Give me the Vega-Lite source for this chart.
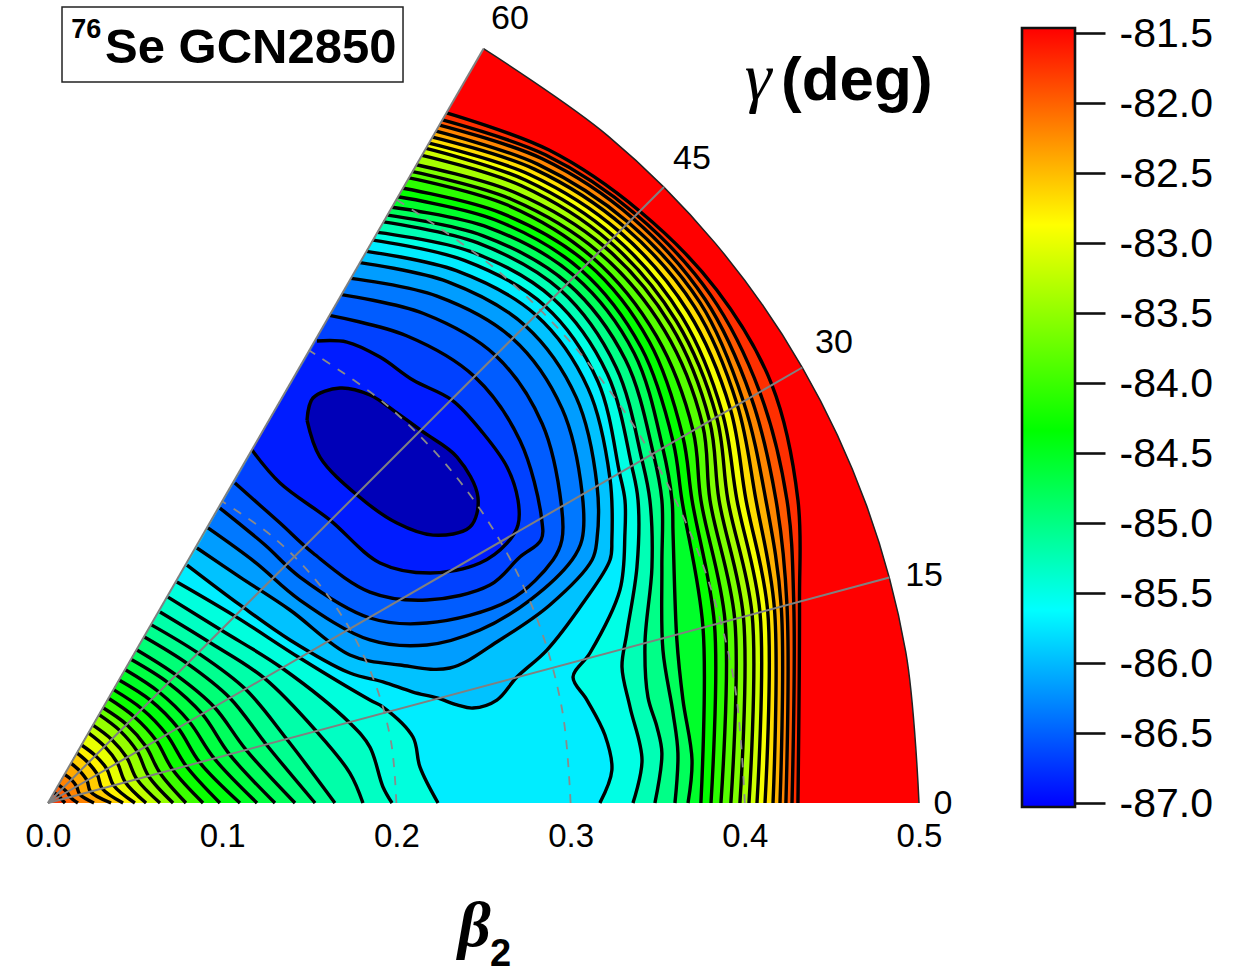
{"$schema":"https://vega.github.io/schema/vega-lite/v6.json","padding":{"left":25,"top":0,"right":0,"bottom":0},"background":"white","config":{"view":{"stroke":null},"text":{"font":"Liberation Sans","color":"#000"}},"spacing":103,"bounds":"flush",
"datasets":{"c":[
{"e":-81.4,"x":0.5,"y":0},{"e":-81.4,"x":0.4924,"y":0.0868},{"e":-81.4,"x":0.4698,"y":0.171},{"e":-81.4,"x":0.433,"y":0.25},{"e":-81.4,"x":0.383,"y":0.3214},{"e":-81.4,"x":0.3214,"y":0.383},{"e":-81.4,"x":0.25,"y":0.433},{"e":-81.4,"x":0.25,"y":0.433},{"e":-81.4,"x":0,"y":0},
{"e":-81.75,"x":0.4305,"y":0},{"e":-81.75,"x":0.4314,"y":0.1156},{"e":-81.75,"x":0.4305,"y":0.1739},{"e":-81.75,"x":0.4156,"y":0.2399},{"e":-81.75,"x":0.3839,"y":0.2945},{"e":-81.75,"x":0.3397,"y":0.3397},{"e":-81.75,"x":0.2876,"y":0.3748},{"e":-81.75,"x":0.2287,"y":0.3962},{"e":-81.75,"x":0.2287,"y":0.3962},{"e":-81.75,"x":0,"y":0},
{"e":-81.98,"x":0.4271,"y":0},{"e":-81.98,"x":0.4281,"y":0.1147},{"e":-81.98,"x":0.4242,"y":0.1739},{"e":-81.98,"x":0.4086,"y":0.2359},{"e":-81.98,"x":0.3803,"y":0.2917},{"e":-81.98,"x":0.3377,"y":0.3377},{"e":-81.98,"x":0.2855,"y":0.3721},{"e":-81.98,"x":0.2264,"y":0.3922},{"e":-81.98,"x":0.2264,"y":0.3922},{"e":-81.98,"x":0,"y":0},
{"e":-82.22,"x":0.4236,"y":0},{"e":-82.22,"x":0.4242,"y":0.1137},{"e":-82.22,"x":0.4179,"y":0.1739},{"e":-82.22,"x":0.4036,"y":0.233},{"e":-82.22,"x":0.3771,"y":0.2893},{"e":-82.22,"x":0.3357,"y":0.3357},{"e":-82.22,"x":0.2837,"y":0.3698},{"e":-82.22,"x":0.2247,"y":0.3892},{"e":-82.22,"x":0.2247,"y":0.3892},{"e":-82.22,"x":0,"y":0},
{"e":-82.45,"x":0.4202,"y":0},{"e":-82.45,"x":0.4209,"y":0.1128},{"e":-82.45,"x":0.4121,"y":0.1739},{"e":-82.45,"x":0.3992,"y":0.2305},{"e":-82.45,"x":0.3743,"y":0.2872},{"e":-82.45,"x":0.3332,"y":0.3332},{"e":-82.45,"x":0.2813,"y":0.3666},{"e":-82.45,"x":0.2227,"y":0.3857},{"e":-82.45,"x":0.2227,"y":0.3857},{"e":-82.45,"x":0,"y":0},
{"e":-82.69,"x":0.4162,"y":0},{"e":-82.69,"x":0.417,"y":0.1117},{"e":-82.69,"x":0.4064,"y":0.1739},{"e":-82.69,"x":0.3957,"y":0.2285},{"e":-82.69,"x":0.3712,"y":0.2848},{"e":-82.69,"x":0.3308,"y":0.3308},{"e":-82.69,"x":0.2792,"y":0.3639},{"e":-82.69,"x":0.2207,"y":0.3823},{"e":-82.69,"x":0.2207,"y":0.3823},{"e":-82.69,"x":0,"y":0},
{"e":-82.92,"x":0.4116,"y":0},{"e":-82.92,"x":0.4131,"y":0.1107},{"e":-82.92,"x":0.4007,"y":0.1739},{"e":-82.92,"x":0.3917,"y":0.2262},{"e":-82.92,"x":0.3675,"y":0.282},{"e":-82.92,"x":0.328,"y":0.328},{"e":-82.92,"x":0.2767,"y":0.3607},{"e":-82.92,"x":0.2187,"y":0.3788},{"e":-82.92,"x":0.2187,"y":0.3788},{"e":-82.92,"x":0,"y":0},
{"e":-83.15,"x":0.407,"y":0},{"e":-83.15,"x":0.4087,"y":0.1095},{"e":-83.15,"x":0.3955,"y":0.1739},{"e":-83.15,"x":0.3872,"y":0.2236},{"e":-83.15,"x":0.3639,"y":0.2792},{"e":-83.15,"x":0.3251,"y":0.3251},{"e":-83.15,"x":0.2743,"y":0.3575},{"e":-83.15,"x":0.217,"y":0.3758},{"e":-83.15,"x":0.217,"y":0.3758},{"e":-83.15,"x":0,"y":0},
{"e":-83.39,"x":0.4024,"y":0},{"e":-83.39,"x":0.4042,"y":0.1083},{"e":-83.39,"x":0.3903,"y":0.1739},{"e":-83.39,"x":0.3838,"y":0.2216},{"e":-83.39,"x":0.3607,"y":0.2767},{"e":-83.39,"x":0.3223,"y":0.3223},{"e":-83.39,"x":0.2718,"y":0.3543},{"e":-83.39,"x":0.2147,"y":0.3718},{"e":-83.39,"x":0.2147,"y":0.3718},{"e":-83.39,"x":0,"y":0},
{"e":-83.62,"x":0.3972,"y":0},{"e":-83.62,"x":0.3992,"y":0.107},{"e":-83.62,"x":0.3852,"y":0.1739},{"e":-83.62,"x":0.3798,"y":0.2193},{"e":-83.62,"x":0.3575,"y":0.2743},{"e":-83.62,"x":0.3194,"y":0.3194},{"e":-83.62,"x":0.2687,"y":0.3502},{"e":-83.62,"x":0.2115,"y":0.3664},{"e":-83.62,"x":0.2115,"y":0.3664},{"e":-83.62,"x":0,"y":0},
{"e":-83.85,"x":0.392,"y":0},{"e":-83.85,"x":0.3942,"y":0.1057},{"e":-83.85,"x":0.38,"y":0.1739},{"e":-83.85,"x":0.3758,"y":0.217},{"e":-83.85,"x":0.3538,"y":0.2715},{"e":-83.85,"x":0.3162,"y":0.3162},{"e":-83.85,"x":0.2659,"y":0.3466},{"e":-83.85,"x":0.2092,"y":0.3624},{"e":-83.85,"x":0.2092,"y":0.3624},{"e":-83.85,"x":0,"y":0},
{"e":-84.09,"x":0.3863,"y":0},{"e":-84.09,"x":0.3887,"y":0.1042},{"e":-84.09,"x":0.3748,"y":0.1739},{"e":-84.09,"x":0.3703,"y":0.2138},{"e":-84.09,"x":0.3493,"y":0.268},{"e":-84.09,"x":0.3129,"y":0.3129},{"e":-84.09,"x":0.2634,"y":0.3434},{"e":-84.09,"x":0.2072,"y":0.3589},{"e":-84.09,"x":0.2072,"y":0.3589},{"e":-84.09,"x":0,"y":0},
{"e":-84.32,"x":0.3806,"y":0},{"e":-84.32,"x":0.3826,"y":0.1025},{"e":-84.32,"x":0.3697,"y":0.1739},{"e":-84.32,"x":0.3644,"y":0.2104},{"e":-84.32,"x":0.3452,"y":0.2648},{"e":-84.32,"x":0.3097,"y":0.3097},{"e":-84.32,"x":0.26,"y":0.3388},{"e":-84.32,"x":0.2038,"y":0.3529},{"e":-84.32,"x":0.2038,"y":0.3529},{"e":-84.32,"x":0,"y":0},
{"e":-84.55,"x":0.3748,"y":0},{"e":-84.55,"x":0.376,"y":0.1008},{"e":-84.55,"x":0.3639,"y":0.1739},{"e":-84.55,"x":0.3589,"y":0.2072},{"e":-84.55,"x":0.3406,"y":0.2613},{"e":-84.55,"x":0.306,"y":0.306},{"e":-84.55,"x":0.2568,"y":0.3347},{"e":-84.55,"x":0.2009,"y":0.348},{"e":-84.55,"x":0.2009,"y":0.348},{"e":-84.55,"x":0,"y":0},
{"e":-84.79,"x":0.3674,"y":0},{"e":-84.79,"x":0.3697,"y":0.0247},{"e":-84.79,"x":0.3645,"y":0.0591},{"e":-84.79,"x":0.361,"y":0.0936},{"e":-84.79,"x":0.3588,"y":0.155},{"e":-84.79,"x":0.3582,"y":0.1739},{"e":-84.79,"x":0.3529,"y":0.2038},{"e":-84.79,"x":0.3365,"y":0.2582},{"e":-84.79,"x":0.3024,"y":0.3024},{"e":-84.79,"x":0.2533,"y":0.3302},{"e":-84.79,"x":0.1975,"y":0.342},{"e":-84.79,"x":0.1975,"y":0.342},{"e":-84.79,"x":0,"y":0},
{"e":-85.02,"x":0.3599,"y":0},{"e":-85.02,"x":0.3616,"y":0.0287},{"e":-85.02,"x":0.3588,"y":0.0517},{"e":-85.02,"x":0.353,"y":0.0878},{"e":-85.02,"x":0.3524,"y":0.1355},{"e":-85.02,"x":0.3524,"y":0.1739},{"e":-85.02,"x":0.3475,"y":0.2006},{"e":-85.02,"x":0.3315,"y":0.2544},{"e":-85.02,"x":0.2983,"y":0.2983},{"e":-85.02,"x":0.2498,"y":0.3256},{"e":-85.02,"x":0.1949,"y":0.3375},{"e":-85.02,"x":0.1949,"y":0.3375},{"e":-85.02,"x":0,"y":0},
{"e":-85.25,"x":0.3484,"y":0},{"e":-85.25,"x":0.3524,"y":0.0287},{"e":-85.25,"x":0.3496,"y":0.0436},{"e":-85.25,"x":0.3444,"y":0.0608},{"e":-85.25,"x":0.3427,"y":0.0918},{"e":-85.25,"x":0.3467,"y":0.1355},{"e":-85.25,"x":0.3455,"y":0.1739},{"e":-85.25,"x":0.341,"y":0.1969},{"e":-85.25,"x":0.3261,"y":0.2502},{"e":-85.25,"x":0.2943,"y":0.2943},{"e":-85.25,"x":0.2467,"y":0.3215},{"e":-85.25,"x":0.1926,"y":0.3336},{"e":-85.25,"x":0.1926,"y":0.3336},{"e":-85.25,"x":0,"y":0},
{"e":-85.49,"x":0.3358,"y":0},{"e":-85.49,"x":0.341,"y":0.0247},{"e":-85.49,"x":0.3341,"y":0.0551},{"e":-85.49,"x":0.3295,"y":0.0781},{"e":-85.49,"x":0.3323,"y":0.0976},{"e":-85.49,"x":0.3381,"y":0.1355},{"e":-85.49,"x":0.3387,"y":0.1739},{"e":-85.49,"x":0.3351,"y":0.1934},{"e":-85.49,"x":0.3211,"y":0.2463},{"e":-85.49,"x":0.2898,"y":0.2898},{"e":-85.49,"x":0.2428,"y":0.3165},{"e":-85.49,"x":0.1891,"y":0.3276},{"e":-85.49,"x":0.1891,"y":0.3276},{"e":-85.49,"x":0,"y":0},
{"e":-85.72,"x":0.3168,"y":0},{"e":-85.72,"x":0.3237,"y":0.0189},{"e":-85.72,"x":0.3197,"y":0.039},{"e":-85.72,"x":0.3094,"y":0.0591},{"e":-85.72,"x":0.3014,"y":0.0723},{"e":-85.72,"x":0.3111,"y":0.0861},{"e":-85.72,"x":0.3283,"y":0.1223},{"e":-85.72,"x":0.3312,"y":0.155},{"e":-85.72,"x":0.3312,"y":0.1739},{"e":-85.72,"x":0.3281,"y":0.1894},{"e":-85.72,"x":0.3156,"y":0.2421},{"e":-85.72,"x":0.2853,"y":0.2853},{"e":-85.72,"x":0.239,"y":0.3115},{"e":-85.72,"x":0.1866,"y":0.3231},{"e":-85.72,"x":0.1866,"y":0.3231},{"e":-85.72,"x":0,"y":0},
{"e":-85.45,"x":0.2239,"y":0},{"e":-85.45,"x":0.2135,"y":0.0207},{"e":-85.45,"x":0.2095,"y":0.0379},{"e":-85.45,"x":0.1923,"y":0.0551},{"e":-85.45,"x":0.1848,"y":0.0591},{"e":-85.45,"x":0.1446,"y":0.0832},{"e":-85.45,"x":0.1073,"y":0.1073},{"e":-85.45,"x":0.074,"y":0.1269},{"e":-85.45,"x":0.074,"y":0.1269},{"e":-85.45,"x":0,"y":0},
{"e":-85.32,"x":0.1975,"y":0},{"e":-85.32,"x":0.1923,"y":0.0092},{"e":-85.32,"x":0.1848,"y":0.0321},{"e":-85.32,"x":0.1733,"y":0.0459},{"e":-85.32,"x":0.1343,"y":0.0775},{"e":-85.32,"x":0.0993,"y":0.0993},{"e":-85.32,"x":0.0689,"y":0.1182},{"e":-85.32,"x":0.0689,"y":0.1182},{"e":-85.32,"x":0,"y":0},
{"e":-85.19,"x":0.1808,"y":0},{"e":-85.19,"x":0.1733,"y":0.0172},{"e":-85.19,"x":0.1544,"y":0.0408},{"e":-85.19,"x":0.124,"y":0.0718},{"e":-85.19,"x":0.0924,"y":0.0924},{"e":-85.19,"x":0.0643,"y":0.1096},{"e":-85.19,"x":0.0643,"y":0.1096},{"e":-85.19,"x":0,"y":0},
{"e":-85.06,"x":0.1647,"y":0},{"e":-85.06,"x":0.137,"y":0.0367},{"e":-85.06,"x":0.1133,"y":0.0654},{"e":-85.06,"x":0.0861,"y":0.0861},{"e":-85.06,"x":0.0591,"y":0.1024},{"e":-85.06,"x":0.0591,"y":0.1024},{"e":-85.06,"x":0,"y":0},
{"e":-84.93,"x":0.1533,"y":0},{"e":-84.93,"x":0.1253,"y":0.0336},{"e":-84.93,"x":0.1044,"y":0.0603},{"e":-84.93,"x":0.08,"y":0.08},{"e":-84.93,"x":0.0551,"y":0.0954},{"e":-84.93,"x":0.0551,"y":0.0954},{"e":-84.93,"x":0,"y":0},
{"e":-84.8,"x":0.1418,"y":0},{"e":-84.8,"x":0.1137,"y":0.0305},{"e":-84.8,"x":0.0954,"y":0.0551},{"e":-84.8,"x":0.0735,"y":0.0735},{"e":-84.8,"x":0.0508,"y":0.088},{"e":-84.8,"x":0.0508,"y":0.088},{"e":-84.8,"x":0,"y":0},
{"e":-84.67,"x":0.1303,"y":0},{"e":-84.67,"x":0.1042,"y":0.0279},{"e":-84.67,"x":0.0885,"y":0.0511},{"e":-84.67,"x":0.069,"y":0.069},{"e":-84.67,"x":0.0476,"y":0.0825},{"e":-84.67,"x":0.0476,"y":0.0825},{"e":-84.67,"x":0,"y":0},
{"e":-84.54,"x":0.12,"y":0},{"e":-84.54,"x":0.0954,"y":0.0256},{"e":-84.54,"x":0.081,"y":0.0468},{"e":-84.54,"x":0.0637,"y":0.0637},{"e":-84.54,"x":0.0442,"y":0.0766},{"e":-84.54,"x":0.0442,"y":0.0766},{"e":-84.54,"x":0,"y":0},
{"e":-84.41,"x":0.1102,"y":0},{"e":-84.41,"x":0.0871,"y":0.0233},{"e":-84.41,"x":0.0746,"y":0.0431},{"e":-84.41,"x":0.0589,"y":0.0589},{"e":-84.41,"x":0.0408,"y":0.0706},{"e":-84.41,"x":0.0408,"y":0.0706},{"e":-84.41,"x":0,"y":0},
{"e":-84.28,"x":0.0987,"y":0},{"e":-84.28,"x":0.0793,"y":0.0212},{"e":-84.28,"x":0.0681,"y":0.0393},{"e":-84.28,"x":0.054,"y":0.054},{"e":-84.28,"x":0.0376,"y":0.0651},{"e":-84.28,"x":0.0376,"y":0.0651},{"e":-84.28,"x":0,"y":0},
{"e":-84,"x":0.089,"y":0},{"e":-84,"x":0.0715,"y":0.0192},{"e":-84,"x":0.0621,"y":0.0359},{"e":-84,"x":0.0495,"y":0.0495},{"e":-84,"x":0.0347,"y":0.0601},{"e":-84,"x":0.0347,"y":0.0601},{"e":-84,"x":0,"y":0},
{"e":-83.74,"x":0.0792,"y":0},{"e":-83.74,"x":0.0643,"y":0.0172},{"e":-83.74,"x":0.0562,"y":0.0324},{"e":-83.74,"x":0.0451,"y":0.0451},{"e":-83.74,"x":0.0316,"y":0.0547},{"e":-83.74,"x":0.0316,"y":0.0547},{"e":-83.74,"x":0,"y":0},
{"e":-83.48,"x":0.0718,"y":0},{"e":-83.48,"x":0.0577,"y":0.0155},{"e":-83.48,"x":0.0512,"y":0.0296},{"e":-83.48,"x":0.0414,"y":0.0414},{"e":-83.48,"x":0.0293,"y":0.0507},{"e":-83.48,"x":0.0293,"y":0.0507},{"e":-83.48,"x":0,"y":0},
{"e":-83.23,"x":0.0643,"y":0},{"e":-83.23,"x":0.051,"y":0.0137},{"e":-83.23,"x":0.0452,"y":0.0261},{"e":-83.23,"x":0.0365,"y":0.0365},{"e":-83.23,"x":0.0258,"y":0.0447},{"e":-83.23,"x":0.0258,"y":0.0447},{"e":-83.23,"x":0,"y":0},
{"e":-83,"x":0.0563,"y":0},{"e":-83,"x":0.0444,"y":0.0119},{"e":-83,"x":0.0398,"y":0.023},{"e":-83,"x":0.0325,"y":0.0325},{"e":-83,"x":0.0232,"y":0.0403},{"e":-83,"x":0.0232,"y":0.0403},{"e":-83,"x":0,"y":0},
{"e":-82.8,"x":0.0499,"y":0},{"e":-82.8,"x":0.0377,"y":0.0101},{"e":-82.8,"x":0.0338,"y":0.0195},{"e":-82.8,"x":0.0272,"y":0.0272},{"e":-82.8,"x":0.0192,"y":0.0333},{"e":-82.8,"x":0.0192,"y":0.0333},{"e":-82.8,"x":0,"y":0},
{"e":-82.6,"x":0.0431,"y":0},{"e":-82.6,"x":0.0311,"y":0.0083},{"e":-82.6,"x":0.0283,"y":0.0164},{"e":-82.6,"x":0.0231,"y":0.0231},{"e":-82.6,"x":0.0166,"y":0.0288},{"e":-82.6,"x":0.0166,"y":0.0288},{"e":-82.6,"x":0,"y":0},
{"e":-82.4,"x":0.0362,"y":0},{"e":-82.4,"x":0.0244,"y":0.0065},{"e":-82.4,"x":0.0224,"y":0.0129},{"e":-82.4,"x":0.0183,"y":0.0183},{"e":-82.4,"x":0.0132,"y":0.0229},{"e":-82.4,"x":0.0132,"y":0.0229},{"e":-82.4,"x":0,"y":0},
{"e":-82.2,"x":0.0264,"y":0},{"e":-82.2,"x":0.0183,"y":0.0049},{"e":-82.2,"x":0.0164,"y":0.0095},{"e":-82.2,"x":0.0134,"y":0.0134},{"e":-82.2,"x":0.0095,"y":0.0164},{"e":-82.2,"x":0.0095,"y":0.0164},{"e":-82.2,"x":0,"y":0},
{"e":-82,"x":0.0172,"y":0},{"e":-82,"x":0.0128,"y":0.0034},{"e":-82,"x":0.0109,"y":0.0063},{"e":-82,"x":0.0085,"y":0.0085},{"e":-82,"x":0.006,"y":0.0104},{"e":-82,"x":0.006,"y":0.0104},{"e":-82,"x":0,"y":0},
{"e":-81.8,"x":0.0098,"y":0},{"e":-81.8,"x":0.0078,"y":0.0021},{"e":-81.8,"x":0.0065,"y":0.0037},{"e":-81.8,"x":0.0049,"y":0.0049},{"e":-81.8,"x":0.0034,"y":0.006},{"e":-81.8,"x":0.0034,"y":0.006},{"e":-81.8,"x":0,"y":0},
{"e":-85.95,"x":0.1828,"y":0.3167},{"e":-85.95,"x":0.2344,"y":0.3056},{"e":-85.95,"x":0.2801,"y":0.2801},{"e":-85.95,"x":0.3101,"y":0.2379},{"e":-85.95,"x":0.3226,"y":0.1863},{"e":-85.95,"x":0.3237,"y":0.151},{"e":-85.95,"x":0.3226,"y":0.1395},{"e":-85.95,"x":0.3071,"y":0.1148},{"e":-85.95,"x":0.2864,"y":0.0878},{"e":-85.95,"x":0.2692,"y":0.0723},{"e":-85.95,"x":0.2577,"y":0.0591},{"e":-85.95,"x":0.244,"y":0.0545},{"e":-85.95,"x":0.2348,"y":0.0563},{"e":-85.95,"x":0.2233,"y":0.0603},{"e":-85.95,"x":0.2095,"y":0.0637},{"e":-85.95,"x":0.1923,"y":0.0695},{"e":-85.95,"x":0.1733,"y":0.0746},{"e":-85.95,"x":0.1389,"y":0.0936},{"e":-85.95,"x":0.1102,"y":0.1137},{"e":-85.95,"x":0.0798,"y":0.1366},
{"e":-86.15,"x":0.1791,"y":0.3102},{"e":-86.15,"x":0.2296,"y":0.2992},{"e":-86.15,"x":0.274,"y":0.274},{"e":-86.15,"x":0.3033,"y":0.2327},{"e":-86.15,"x":0.3152,"y":0.182},{"e":-86.15,"x":0.3151,"y":0.151},{"e":-86.15,"x":0.3123,"y":0.1395},{"e":-86.15,"x":0.2881,"y":0.1137},{"e":-86.15,"x":0.2594,"y":0.0936},{"e":-86.15,"x":0.2307,"y":0.0775},{"e":-86.15,"x":0.202,"y":0.0792},{"e":-86.15,"x":0.1733,"y":0.085},{"e":-86.15,"x":0.1389,"y":0.1108},{"e":-86.15,"x":0.1102,"y":0.1297},{"e":-86.15,"x":0.0855,"y":0.1464},
{"e":-86.35,"x":0.1739,"y":0.3012},{"e":-86.35,"x":0.2233,"y":0.291},{"e":-86.35,"x":0.2667,"y":0.2667},{"e":-86.35,"x":0.2951,"y":0.2264},{"e":-86.35,"x":0.3067,"y":0.1771},{"e":-86.35,"x":0.3065,"y":0.151},{"e":-86.35,"x":0.3008,"y":0.1395},{"e":-86.35,"x":0.2767,"y":0.1165},{"e":-86.35,"x":0.248,"y":0.0993},{"e":-86.35,"x":0.2175,"y":0.0907},{"e":-86.35,"x":0.1848,"y":0.0936},{"e":-86.35,"x":0.1446,"y":0.1165},{"e":-86.35,"x":0.1188,"y":0.1383},{"e":-86.35,"x":0.0918,"y":0.1579},
{"e":-86.5,"x":0.1685,"y":0.2918},{"e":-86.5,"x":0.2156,"y":0.281},{"e":-86.5,"x":0.2569,"y":0.2569},{"e":-86.5,"x":0.2837,"y":0.2177},{"e":-86.5,"x":0.2948,"y":0.1702},{"e":-86.5,"x":0.295,"y":0.151},{"e":-86.5,"x":0.2899,"y":0.1395},{"e":-86.5,"x":0.2652,"y":0.1165},{"e":-86.5,"x":0.2175,"y":0.1033},{"e":-86.5,"x":0.1848,"y":0.1062},{"e":-86.5,"x":0.1446,"y":0.1297},{"e":-86.5,"x":0.1246,"y":0.1481},{"e":-86.5,"x":0.0987,"y":0.1693},
{"e":-86.65,"x":0.1616,"y":0.2799},{"e":-86.65,"x":0.2058,"y":0.2682},{"e":-86.65,"x":0.2448,"y":0.2448},{"e":-86.65,"x":0.271,"y":0.2079},{"e":-86.65,"x":0.2833,"y":0.1636},{"e":-86.65,"x":0.283,"y":0.151},{"e":-86.65,"x":0.2709,"y":0.1412},{"e":-86.65,"x":0.2537,"y":0.1251},{"e":-86.65,"x":0.2175,"y":0.1165},{"e":-86.65,"x":0.1848,"y":0.1211},{"e":-86.65,"x":0.1521,"y":0.1435},{"e":-86.65,"x":0.1332,"y":0.1607},{"e":-86.65,"x":0.1073,"y":0.1837},
{"e":-86.85,"x":0.1544,"y":0.2652},{"e":-86.85,"x":0.1716,"y":0.2646},{"e":-86.85,"x":0.1906,"y":0.256},{"e":-86.85,"x":0.2095,"y":0.2428},{"e":-86.85,"x":0.2319,"y":0.2313},{"e":-86.85,"x":0.2497,"y":0.2124},{"e":-86.85,"x":0.2635,"y":0.1929},{"e":-86.85,"x":0.2698,"y":0.1739},{"e":-86.85,"x":0.2698,"y":0.1596},{"e":-86.85,"x":0.2635,"y":0.1492},{"e":-86.85,"x":0.248,"y":0.1378},{"e":-86.85,"x":0.2193,"y":0.132},{"e":-86.85,"x":0.1906,"y":0.1378},{"e":-86.85,"x":0.1619,"y":0.1624},{"e":-86.85,"x":0.1332,"y":0.1837},{"e":-86.85,"x":0.1171,"y":0.2026},
{"e":-87.1,"x":0.1487,"y":0.2198},{"e":-87.1,"x":0.1521,"y":0.2325},{"e":-87.1,"x":0.1676,"y":0.2382},{"e":-87.1,"x":0.1848,"y":0.2342},{"e":-87.1,"x":0.2003,"y":0.2239},{"e":-87.1,"x":0.2153,"y":0.213},{"e":-87.1,"x":0.2348,"y":0.1986},{"e":-87.1,"x":0.2468,"y":0.1756},{"e":-87.1,"x":0.2422,"y":0.1584},{"e":-87.1,"x":0.221,"y":0.1538},{"e":-87.1,"x":0.2003,"y":0.1607},{"e":-87.1,"x":0.1774,"y":0.1768},{"e":-87.1,"x":0.1561,"y":0.1986},{"e":-87.1,"x":0.1487,"y":0.2198}
],
"arcs":[
{"r":0.2,"x":0.2,"y":0},{"r":0.2,"x":0.197,"y":0.0347},{"r":0.2,"x":0.1879,"y":0.0684},{"r":0.2,"x":0.1732,"y":0.1},{"r":0.2,"x":0.1532,"y":0.1286},{"r":0.2,"x":0.1286,"y":0.1532},{"r":0.2,"x":0.1,"y":0.1732},
{"r":0.3,"x":0.3,"y":0},{"r":0.3,"x":0.2954,"y":0.0521},{"r":0.3,"x":0.2819,"y":0.1026},{"r":0.3,"x":0.2598,"y":0.15},{"r":0.3,"x":0.2298,"y":0.1928},{"r":0.3,"x":0.1928,"y":0.2298},{"r":0.3,"x":0.15,"y":0.2598},
{"r":0.4,"x":0.4,"y":0},{"r":0.4,"x":0.3939,"y":0.0695},{"r":0.4,"x":0.3759,"y":0.1368},{"r":0.4,"x":0.3464,"y":0.2},{"r":0.4,"x":0.3064,"y":0.2571},{"r":0.4,"x":0.2571,"y":0.3064},{"r":0.4,"x":0.2,"y":0.3464}],
"rays":[{"x":0,"y":0,"x2":0.483,"y2":0.1294},{"x":0,"y":0,"x2":0.433,"y2":0.25},{"x":0,"y":0,"x2":0.3536,"y2":0.3536},{"x":0,"y":0,"x2":0.25,"y2":0.433}]},
"hconcat":[
{"width":871,"height":810,
"encoding":{"x":{"field":"x","type":"quantitative","scale":{"domain":[0,0.5],"nice":false,"zero":false},"axis":{"values":[0,0.1,0.2,0.3,0.4,0.5],"format":".1f","tickSize":0,"domain":false,"grid":false,"labelFontSize":33,"labelFont":"Liberation Sans","labelColor":"#000","labelPadding":10,"labelFlush":false,"labelOverlap":false,"title":null}},"y":{"field":"y","type":"quantitative","scale":{"domain":[-0.00402,0.46097],"nice":false,"zero":false},"axis":null}},
"layer":[
{"data":{"name":"c"},"mark":{"type":"line","interpolate":"catmull-rom","strokeWidth":0,"clip":false},"encoding":{"fill":{"field":"e","type":"quantitative","legend":null,"scale":{"domain":[-87.1,-87,-85.62,-84.34,-82.87,-81.5],"range":["#0000b8","#0000ff","#00ffff","#00ff00","#ffff00","#ff0000"],"interpolate":"rgb","clamp":true}},"order":{"value":null}}},
{"data":{"name":"c"},"transform":[{"filter":"datum.x>0 && datum.e<-81.5"}],"mark":{"type":"line","interpolate":"catmull-rom","stroke":"#000","strokeWidth":3.4},"encoding":{"detail":{"field":"e"},"order":{"value":null}}},
{"data":{"name":"c"},"transform":[{"filter":"datum.x>0 && datum.e>-81.5"}],"mark":{"type":"line","interpolate":"catmull-rom","stroke":"#222","strokeWidth":1.5},"encoding":{"order":{"value":null}}},
{"data":{"name":"arcs"},"mark":{"type":"line","interpolate":"catmull-rom","stroke":"#8a8a8a","strokeWidth":1.8,"strokeDash":[9,9]},"encoding":{"detail":{"field":"r"},"order":{"value":null}}},
{"data":{"name":"rays"},"mark":{"type":"rule","stroke":"#808080","strokeWidth":2},"encoding":{"x2":{"field":"x2"},"y2":{"field":"y2"}}},
{"data":{"values":[{"x":0.00804,"y":0.45695,"x2":0.2038,"y2":0.4139}]},"mark":{"type":"rect","fill":null,"stroke":"#222","strokeWidth":1.5,"clip":false},"encoding":{"x2":{"field":"x2"},"y2":{"field":"y2"}}},
{"data":{"values":[{"t":"Se GCN2850","x":0.0327,"y":0.4248}]},"mark":{"type":"text","align":"left","baseline":"alphabetic","fontSize":49,"fontWeight":"bold"},"encoding":{"text":{"field":"t"}}},
{"data":{"values":[{"t":"76","x":0.0133,"y":0.4391}]},"mark":{"type":"text","align":"left","baseline":"alphabetic","fontSize":27,"fontWeight":"bold"},"encoding":{"text":{"field":"t"}}},
{"data":{"values":[{"t":"0","x":0.5138,"y":-0.0006},{"t":"15","x":0.5029,"y":0.1303},{"t":"30","x":0.4512,"y":0.264},{"t":"45","x":0.3697,"y":0.3697},{"t":"60","x":0.2652,"y":0.4503}]},"mark":{"type":"text","align":"center","baseline":"middle","fontSize":34},"encoding":{"text":{"field":"t"}}},
{"data":{"values":[{"t":"(deg)","x":0.4208,"y":0.4036}]},"mark":{"type":"text","align":"left","baseline":"alphabetic","fontSize":62,"fontWeight":"bold"},"encoding":{"text":{"field":"t"}}},
{"data":{"values":[{"t":"γ","x":0.4,"y":0.4036}]},"mark":{"type":"text","align":"left","baseline":"alphabetic","fontSize":68,"font":"Liberation Serif","fontStyle":"italic"},"encoding":{"text":{"field":"t"}}},
{"data":{"values":[{"t":"β","x":0.2354,"y":-0.0821}]},"mark":{"type":"text","align":"left","baseline":"alphabetic","fontSize":64,"font":"Liberation Serif","fontStyle":"italic","fontWeight":"bold"},"encoding":{"text":{"field":"t"}}},
{"data":{"values":[{"t":"2","x":0.2537,"y":-0.0936}]},"mark":{"type":"text","align":"left","baseline":"alphabetic","fontSize":38,"fontWeight":"bold"},"encoding":{"text":{"field":"t"}}}
]},
{"width":53,"height":810,"data":{"values":[{"a":-87.029,"b":-81.464}]},
"mark":{"type":"rect","stroke":"#111","strokeWidth":2.6,"fill":{"gradient":"linear","x1":0,"y1":1,"x2":0,"y2":0,"stops":[{"offset":0,"color":"#0000ff"},{"offset":0.2532,"color":"#00ffff"},{"offset":0.4832,"color":"#00ff00"},{"offset":0.7473,"color":"#ffff00"},{"offset":1,"color":"#ff0000"}]}},
"encoding":{"y":{"field":"a","type":"quantitative","scale":{"domain":[-87.05,-81.264],"nice":false,"zero":false},"axis":{"orient":"right","values":[-87,-86.5,-86,-85.5,-85,-84.5,-84,-83.5,-83,-82.5,-82,-81.5],"labelExpr":"'-'+format(abs(datum.value),'.1f')","tickSize":30,"tickWidth":2.6,"tickColor":"#111","domain":false,"grid":false,"labelFontSize":41,"labelFont":"Liberation Sans","labelColor":"#000","labelPadding":14,"labelOffset":1,"labelOverlap":false,"labelFlush":false,"title":null}},"y2":{"field":"b"}}}
]}
